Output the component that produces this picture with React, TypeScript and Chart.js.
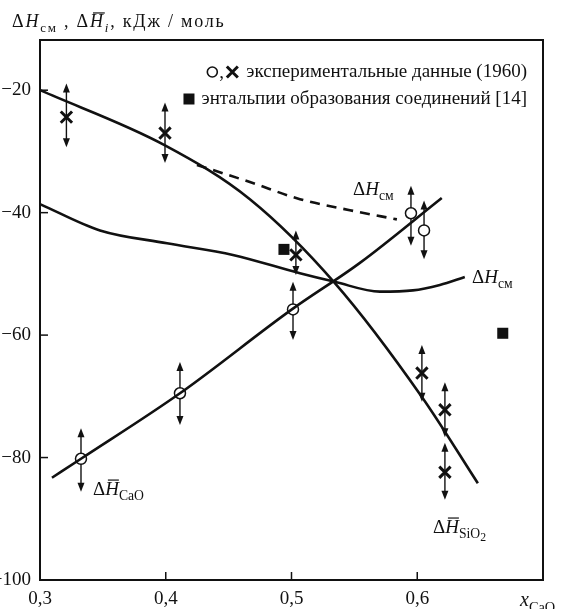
import React, { useEffect, useRef } from 'react';
import { Chart, registerables } from 'chart.js';

Chart.register(...registerables);

// ---------- data ----------
const xTicks = [0.3, 0.4, 0.5, 0.6, 0.7];
const yTicks = [-100, -80, -60, -40, -20];

// ΔH̄_SiO2 curve
const sio2CurveX = [0.3, 0.3994, 0.4669, 0.5345, 0.6037, 0.6482];
const sio2CurveY = [-20.0, -29.0, -37.8, -51.5, -70.1, -84.2];

// ΔH̄_CaO curve
const caoCurveX = [0.3095, 0.3326, 0.4113, 0.5003, 0.5544, 0.6195];
const caoCurveY = [-83.3, -80.2, -69.5, -55.8, -48.2, -37.6];

// ΔH_см curve (solid)
const mixCurveX = [0.3, 0.3477, 0.401, 0.4534, 0.5067, 0.5345, 0.5703, 0.5965, 0.618, 0.6378];
const mixCurveY = [-38.6, -42.9, -45.0, -46.9, -49.9, -51.3, -52.9, -52.7, -51.8, -50.5];

// ΔH_см curve (dashed)
const mixDashX = [0.4248, 0.4669, 0.5067, 0.5464, 0.5838];
const mixDashY = [-32.2, -35.0, -37.8, -39.6, -41.1];

// experimental points: crosses (ΔH̄_SiO2)
const crossX = [0.321, 0.3994, 0.5035, 0.6037, 0.622, 0.622];
const crossY = [-24.4, -27.0, -46.9, -66.2, -72.2, -82.4];
const crossHi = [-18.9, -22.0, -42.9, -61.6, -67.7, -77.6];
const crossLo = [-29.3, -31.9, -50.2, -70.9, -76.7, -86.9];

// experimental points: circles (ΔH̄_CaO, ΔH_см)
const circX = [0.3326, 0.4113, 0.5012, 0.595, 0.6054];
const circY = [-80.2, -69.5, -55.8, -40.1, -42.9];
const circHi = [-75.2, -64.4, -51.3, -35.6, -38.0];
const circLo = [-85.6, -74.7, -60.8, -45.4, -47.6];

// enthalpies of compound formation [14]
const sqX = [0.494, 0.668];
const sqY = [-46.0, -59.7];

// curve labels anchored in data coordinates
const labelX = [0.5489, 0.6435, 0.3421, 0.6125];
const labelY = [-37.1, -51.5, -86.1, -92.3];

const legendTexts = ['экспериментальные данные (1960)', 'энтальпии образования соединений [14]'];

const FONT = '"Liberation Serif", "DejaVu Serif", serif';
const INK = '#111';

type Seg = { t: string; it?: boolean; sub?: number; bar?: boolean };

const labelSegs: Seg[][] = [
  [{ t: 'Δ' }, { t: 'H', it: true }, { t: 'см', sub: 1 }],
  [{ t: 'Δ' }, { t: 'H', it: true }, { t: 'см', sub: 1 }],
  [{ t: 'Δ' }, { t: 'H', it: true, bar: true }, { t: 'CaO', sub: 1 }],
  [{ t: 'Δ' }, { t: 'H', it: true, bar: true }, { t: 'SiO', sub: 1 }, { t: '2', sub: 2 }],
];

const titleSegs: Seg[] = [
  { t: 'Δ' }, { t: 'H', it: true }, { t: 'см', sub: 1 }, { t: ' , Δ' },
  { t: 'H', it: true, bar: true }, { t: 'i', it: true, sub: 1 }, { t: ', кДж / моль' },
];

const xTitleSegs: Seg[] = [{ t: 'x', it: true }, { t: 'CaO', sub: 1 }];

function segFont(s: Seg, size: number) {
  const f = s.sub === 1 ? size * 0.72 : s.sub === 2 ? size * 0.62 : size;
  return `${s.it ? 'italic ' : ''}${f}px ${FONT}`;
}
function segDy(s: Seg, size: number) {
  return s.sub === 1 ? size * 0.28 : s.sub === 2 ? size * 0.42 : 0;
}
function drawRich(ctx: CanvasRenderingContext2D, segs: Seg[], x: number, y: number, size: number, spacing = 0) {
  let cx = x;
  ctx.save();
  ctx.textBaseline = 'alphabetic';
  ctx.textAlign = 'left';
  ctx.fillStyle = INK;
  (ctx as any).letterSpacing = `${spacing}px`;
  for (const s of segs) {
    ctx.font = segFont(s, size);
    const w = ctx.measureText(s.t).width;
    ctx.fillText(s.t, cx, y + segDy(s, size));
    if (s.bar) {
      ctx.strokeStyle = INK;
      ctx.lineWidth = 1.2;
      ctx.beginPath();
      ctx.moveTo(cx + w * 0.2, y - size * 0.78);
      ctx.lineTo(cx + w * 1.0, y - size * 0.78);
      ctx.stroke();
    }
    cx += w;
  }
  ctx.restore();
}

function arrowHead(ctx: CanvasRenderingContext2D, x: number, y: number, dir: number) {
  // dir = -1 : pointing up, 1 : pointing down
  ctx.beginPath();
  ctx.moveTo(x, y);
  ctx.lineTo(x - 3.5, y - dir * 9);
  ctx.lineTo(x + 3.5, y - dir * 9);
  ctx.closePath();
  ctx.fill();
}

const decorPlugin = {
  id: 'decor',
  beforeDatasetsDraw(chart: any) {
    const { ctx, scales } = chart;
    const xs = scales.x, ys = scales.y;
    ctx.save();
    ctx.strokeStyle = INK;
    ctx.fillStyle = INK;
    ctx.lineWidth = 1.4;
    const bars = (X: number[], H: number[], L: number[]) => {
      for (let i = 0; i < X.length; i++) {
        const px = xs.getPixelForValue(X[i]);
        const ph = ys.getPixelForValue(H[i]);
        const pl = ys.getPixelForValue(L[i]);
        ctx.beginPath();
        ctx.moveTo(px, ph + 4);
        ctx.lineTo(px, pl - 4);
        ctx.stroke();
        arrowHead(ctx, px, ph, -1);
        arrowHead(ctx, px, pl, 1);
      }
    };
    bars(crossX, crossHi, crossLo);
    bars(circX, circHi, circLo);
    ctx.restore();
  },
  afterDraw(chart: any) {
    const { ctx, chartArea: a, scales } = chart;
    const xs = scales.x, ys = scales.y;
    ctx.save();
    // frame
    ctx.strokeStyle = INK;
    ctx.lineWidth = 2;
    ctx.strokeRect(a.left, a.top, a.right - a.left, a.bottom - a.top);
    // inward ticks
    ctx.lineWidth = 1.5;
    for (const v of xTicks) {
      const p = xs.getPixelForValue(v);
      if (p <= a.left + 1 || p >= a.right - 1) continue;
      ctx.beginPath();
      ctx.moveTo(p, a.bottom);
      ctx.lineTo(p, a.bottom - 8);
      ctx.stroke();
    }
    for (const v of yTicks) {
      const p = ys.getPixelForValue(v);
      if (p >= a.bottom - 1 || p <= a.top + 1) continue;
      ctx.beginPath();
      ctx.moveTo(a.left, p);
      ctx.lineTo(a.left + 8, p);
      ctx.stroke();
    }
    // curve labels
    for (let i = 0; i < labelSegs.length; i++) {
      drawRich(ctx, labelSegs[i], xs.getPixelForValue(labelX[i]), ys.getPixelForValue(labelY[i]), 19);
    }
    // axis titles
    drawRich(ctx, titleSegs, a.left - 28, a.top - 13, 18, 1.8);
    drawRich(ctx, xTitleSegs, a.right - 23, chart.height - 3, 20);
    // legend
    const fs = 19;
    ctx.font = `${fs}px ${FONT}`;
    ctx.textAlign = 'right';
    ctx.textBaseline = 'middle';
    ctx.fillStyle = INK;
    const rx = a.right - 16;
    const y1 = a.top + 32, y2 = a.top + 59;
    ctx.fillText(legendTexts[0], rx, y1);
    ctx.fillText(legendTexts[1], rx, y2);
    const w1 = ctx.measureText(legendTexts[0]).width;
    const w2 = ctx.measureText(legendTexts[1]).width;
    const s1 = rx - w1;
    const s2 = rx - w2;
    // circle
    ctx.lineWidth = 1.6;
    ctx.beginPath();
    ctx.arc(s1 - 34, y1, 5, 0, Math.PI * 2);
    ctx.stroke();
    // comma
    ctx.textAlign = 'left';
    ctx.fillText(',', s1 - 27, y1 + 1);
    // cross
    ctx.lineWidth = 3;
    ctx.beginPath();
    ctx.moveTo(s1 - 19.5, y1 - 5.5);
    ctx.lineTo(s1 - 8.5, y1 + 5.5);
    ctx.moveTo(s1 - 8.5, y1 - 5.5);
    ctx.lineTo(s1 - 19.5, y1 + 5.5);
    ctx.stroke();
    // square
    ctx.fillRect(s2 - 18, y2 - 5.5, 11, 11);
    ctx.restore();
  },
};

const pts = (X: number[], Y: number[]) => X.map((x, i) => ({ x, y: Y[i] }));

export default function App() {
  const ref = useRef<HTMLCanvasElement | null>(null);
  useEffect(() => {
    if (!ref.current) return;
    const lineBase = {
      showLine: true,
      pointRadius: 0,
      borderColor: INK,
      borderWidth: 2.6,
      cubicInterpolationMode: 'monotone',
      fill: false,
    };
    const chart = new Chart(ref.current, {
      type: 'scatter',
      data: {
        datasets: [
          { ...lineBase, data: pts(sio2CurveX, sio2CurveY) },
          { ...lineBase, data: pts(caoCurveX, caoCurveY) },
          { ...lineBase, data: pts(mixCurveX, mixCurveY) },
          { ...lineBase, data: pts(mixDashX, mixDashY), borderDash: [10, 7] },
          {
            data: pts(crossX, crossY), pointStyle: 'crossRot', pointRadius: 8,
            borderColor: INK, borderWidth: 3, showLine: false,
          },
          {
            data: pts(circX, circY), pointStyle: 'circle', pointRadius: 5.5,
            backgroundColor: '#fff', borderColor: INK, borderWidth: 1.5, showLine: false,
          },
          {
            data: pts(sqX, sqY), pointStyle: 'rect', pointRadius: 7.8,
            backgroundColor: INK, borderColor: INK, borderWidth: 0, showLine: false,
          },
        ] as any,
      },
      options: {
        animation: false,
        responsive: false,
        devicePixelRatio: 1,
        layout: { padding: { top: 40, right: 22, left: 0, bottom: 0 } },
        plugins: { legend: { display: false }, tooltip: { enabled: false }, title: { display: false } },
        events: [],
        scales: {
          x: {
            type: 'linear', min: 0.3, max: 0.7,
            afterBuildTicks: (s: any) => { s.ticks = xTicks.map((v) => ({ value: v })); },
            afterFit: (s: any) => { s.height = 29; },
            grid: { display: false, drawTicks: false },
            border: { display: false },
            ticks: {
              autoSkip: false, maxRotation: 0, padding: 8, color: INK,
              font: { family: FONT, size: 19 },
              callback: (v: any) => (Math.abs(Number(v) - 0.7) < 1e-6 ? '' : Number(v).toFixed(1).replace('.', ',')),
            },
          },
          y: {
            type: 'linear', min: -100, max: -11.8,
            afterBuildTicks: (s: any) => { s.ticks = yTicks.map((v) => ({ value: v })); },
            afterFit: (s: any) => { s.width = 40; },
            grid: { display: false, drawTicks: false },
            border: { display: false },
            ticks: {
              autoSkip: false, padding: 9, color: INK,
              font: { family: FONT, size: 19 },
              callback: (v: any) => '−' + Math.abs(Number(v)),
            },
          },
        },
      } as any,
      plugins: [decorPlugin],
    });
    return () => chart.destroy();
  }, []);
  return (
    <div style={{ position: 'fixed', left: 0, top: 0, width: 565, height: 609, background: '#fff' }}>
      <canvas ref={ref} width={565} height={609} style={{ width: 565, height: 609, display: 'block' }} />
    </div>
  );
}
